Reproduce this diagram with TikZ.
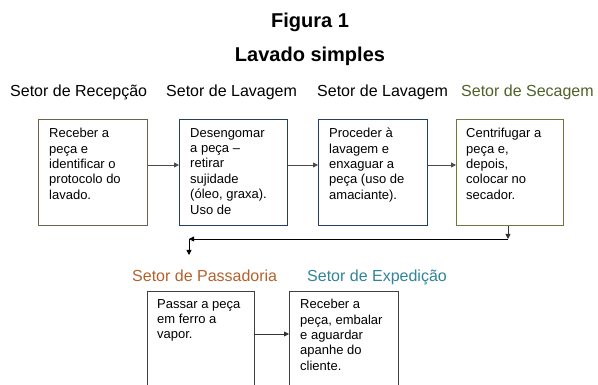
\documentclass[tikz,border=0pt]{standalone}
\usepackage{fontspec}
\setmainfont{Liberation Sans}
\usetikzlibrary{arrows.meta}
\definecolor{secagem}{HTML}{4F6228}
\definecolor{passad}{HTML}{B4622D}
\definecolor{exped}{HTML}{31849B}
\definecolor{recepline}{HTML}{6A6251}
\definecolor{lavline}{HTML}{243F60}
\definecolor{secline}{HTML}{6B7A3A}
\tikzset{
  setorbox/.style={draw, rectangle, line width=0.8pt, minimum width=108pt, minimum height=106pt, anchor=north west, inner sep=0pt},
  boxtxt/.style={anchor=north west, inner sep=0pt, align=left, font=\fontsize{13}{15.4}\selectfont},
  setorlbl/.style={anchor=base west, inner sep=0pt, font=\fontsize{16}{19}\selectfont},
  seta/.style={-{Triangle[length=5pt,width=5pt]}, line width=0.8pt},
}
\begin{document}
\begin{tikzpicture}[x=1pt, y={(0,-1pt)}]
    \clip (0,0) rectangle (598,385);
    \fill[white] (0,0) rectangle (598,385);

    \node[anchor=base, font=\fontsize{20}{24}\selectfont\bfseries] (fig) at (310,28) {Figura 1};
    \node[anchor=base, font=\fontsize{20}{24}\selectfont\bfseries] (titulo) at (310,62) {Lavado simples};

    \node[setorlbl] (lrecep) at (10,97) {Setor de Recepção};
    \node[setorlbl] (llav1) at (166,97) {Setor de Lavagem};
    \node[setorlbl] (llav2) at (317,97) {Setor de Lavagem};
    \node[setorlbl, text=secagem] (lsec) at (461,97) {Setor de Secagem};
    \node[setorlbl, text=passad] (lpass) at (132,282) {Setor de Passadoria};
    \node[setorlbl, text=exped] (lexp) at (307,282) {Setor de Expedição};

    \node[setorbox, draw=recepline, minimum width=109pt] (recep) at (38,119) {};
    \node[setorbox, draw=lavline] (lav1) at (179,119) {};
    \node[setorbox, draw=lavline, minimum width=109pt] (lav2) at (318,119) {};
    \node[setorbox, draw=secline, minimum width=107pt] (sec) at (456,119) {};
    \node[setorbox, draw=black!75, minimum width=107pt, minimum height=110pt] (pass) at (147,291) {};
    \node[setorbox, draw=black!75, minimum width=109pt, minimum height=110pt] (exp) at (289,291) {};

    \node[boxtxt] (trecep) at ([shift={(11pt,-9pt)}]recep.north west) {Receber a\\peça e\\identificar o\\protocolo do\\lavado.};
    \node[boxtxt] (tlav1) at ([shift={(11pt,-9pt)}]lav1.north west) {Desengomar\\a peça –\\retirar\\sujidade\\(óleo, graxa).\\Uso de};
    \node[boxtxt] (tlav2) at ([shift={(11pt,-9pt)}]lav2.north west) {Proceder à\\lavagem e\\enxaguar a\\peça (uso de\\amaciante).};
    \node[boxtxt] (tsec) at ([shift={(10pt,-9pt)}]sec.north west) {Centrifugar a\\peça e,\\depois,\\colocar no\\secador.};
    \node[boxtxt] (tpass) at ([shift={(10pt,-8pt)}]pass.north west) {Passar a peça\\em ferro a\\vapor.};
    \node[boxtxt] (texp) at ([shift={(11pt,-8pt)}]exp.north west) {Receber a\\peça, embalar\\e aguardar\\apanhe do\\cliente.};

    \coordinate (volta) at (508,239);
    \coordinate (voltafim) at (189,239);
    \coordinate (desce) at (189,255);

    \draw[seta, black!70] (recep.east |- 0,165) -- (lav1.west |- 0,165);
    \draw[seta, black!70] (lav1.east |- 0,165) -- (lav2.west |- 0,165);
    \draw[seta, black!70] (lav2.east |- 0,165) -- (sec.west |- 0,165);
    \draw[seta, black!80] (sec.south -| volta) -- (volta);
    \draw[seta] (volta) -- (voltafim);
    \draw[seta] (voltafim) -- (desce);
    \draw[seta, black!80] (pass.east |- 0,334) -- (exp.west |- 0,334);
\end{tikzpicture}
\end{document}
